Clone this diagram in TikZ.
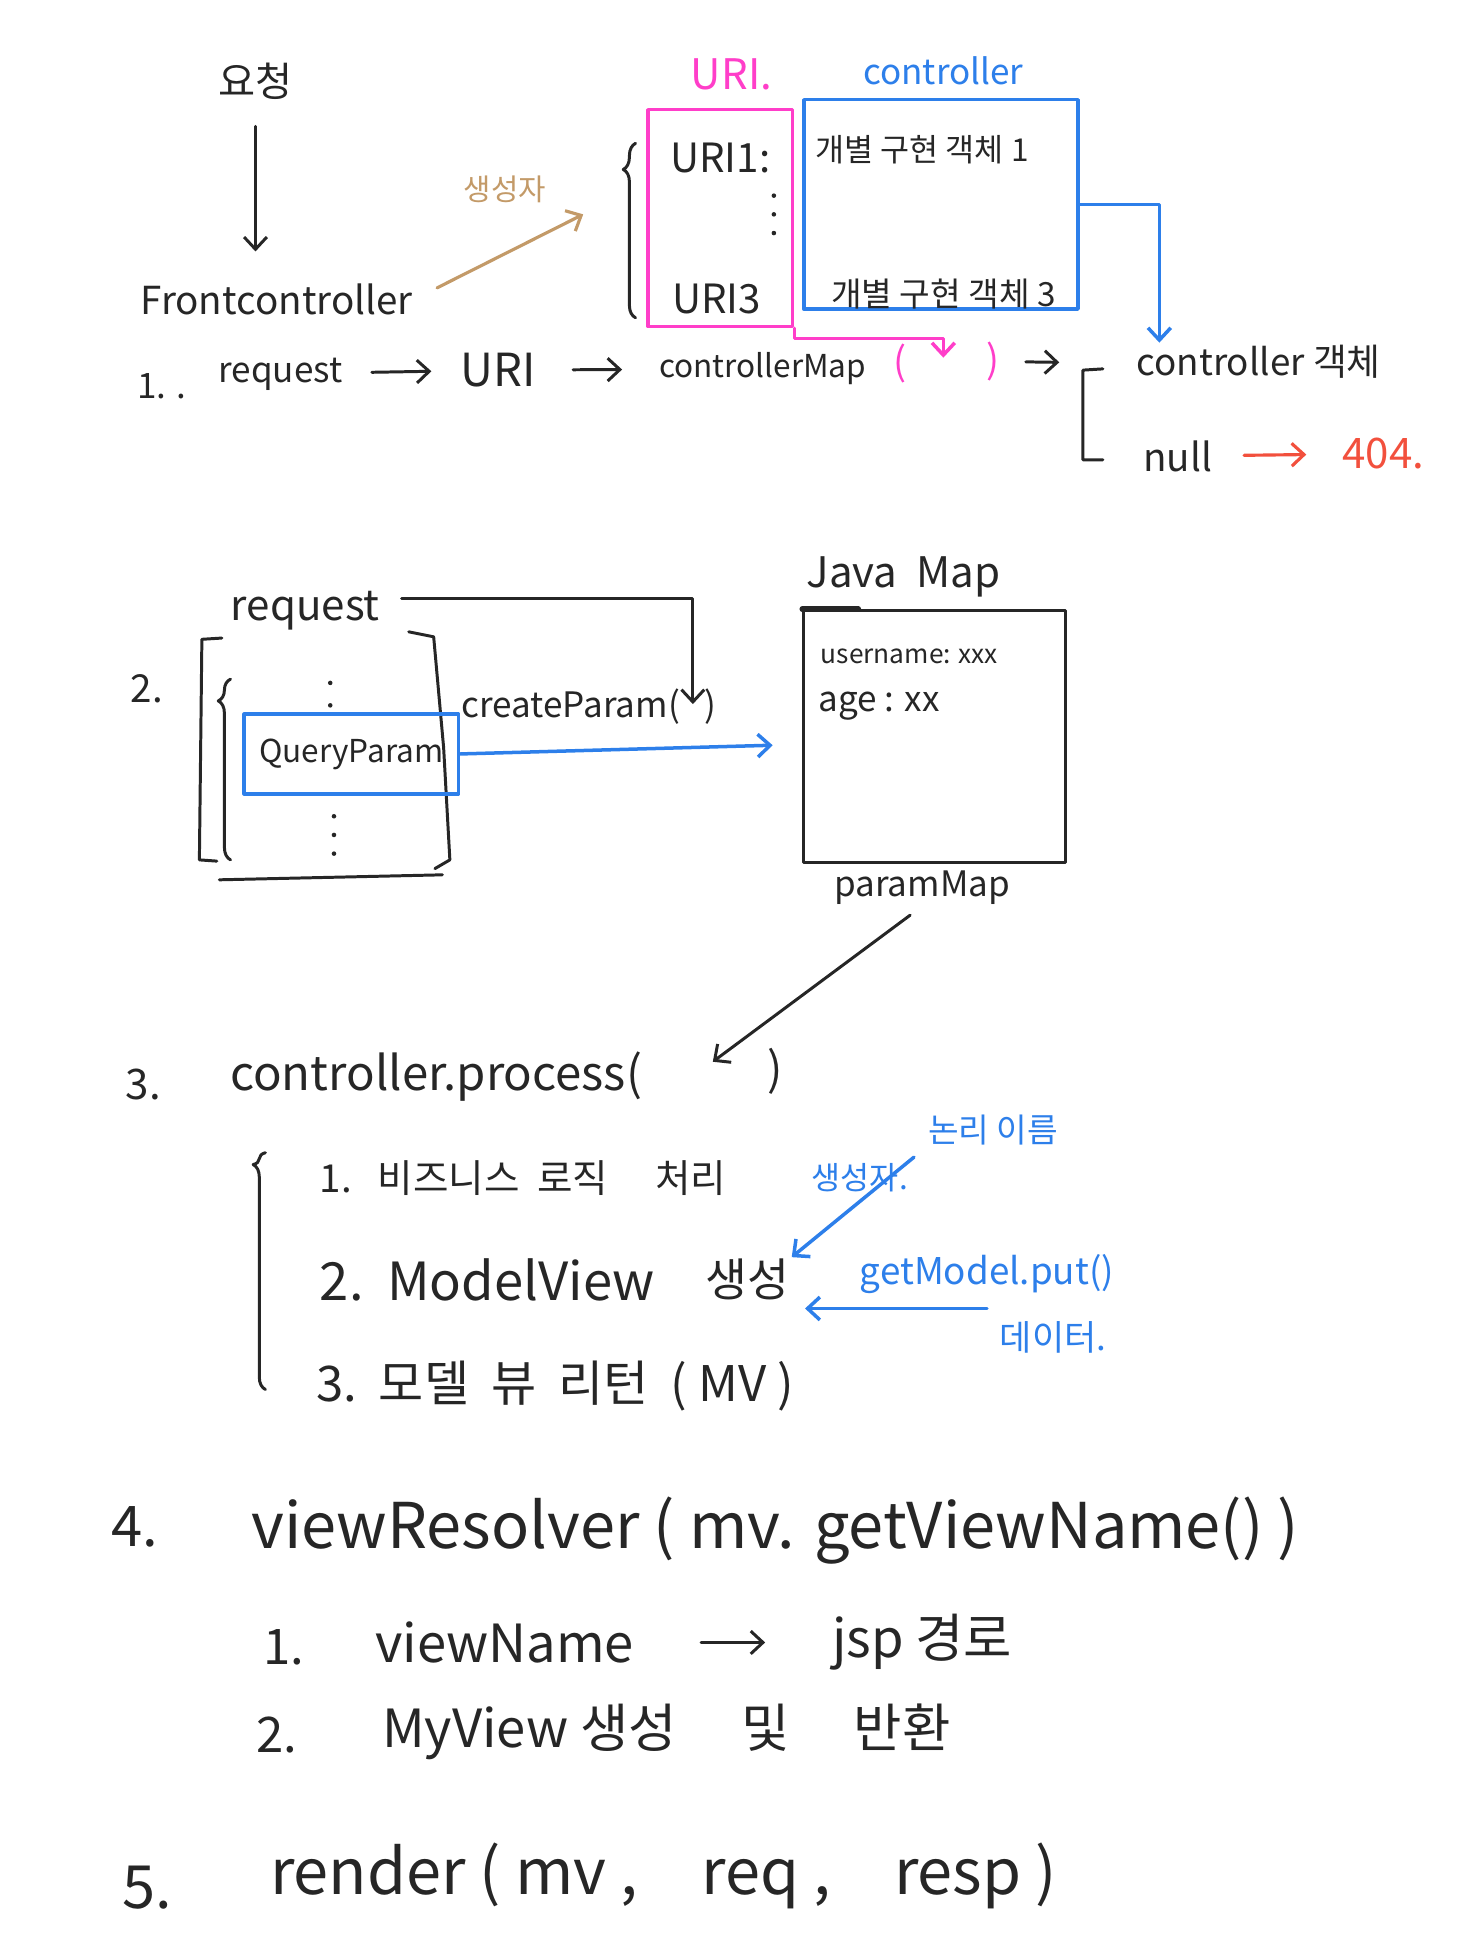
\documentclass[tikz,border=0pt]{standalone}
\usepackage{fontspec}
\setmainfont{Noto Sans CJK KR}
\usetikzlibrary{positioning,arrows.meta,decorations.pathreplacing}
\definecolor{pen}{HTML}{262626}
\definecolor{pinkink}{HTML}{FF3EC9}
\definecolor{blueink}{HTML}{2D7FEA}
\definecolor{tanink}{HTML}{C39A68}
\definecolor{redink}{HTML}{F2503D}
\tikzset{
  fsz/.style={font=\fontsize{#1}{#1}\selectfont},
  word/.style={inner sep=1pt,text=pen},
  ink/.style={draw=pen,line width=1.7pt,line cap=round,line join=round},
  pinkpen/.style={draw=pinkink,line width=2pt,line cap=round,line join=round},
  bluepen/.style={draw=blueink,line width=2pt,line cap=round,line join=round},
  tanpen/.style={draw=tanink,line width=1.8pt,line cap=round},
  redpen/.style={draw=redink,line width=1.8pt,line cap=round},
  trim/.style={shorten <=#1,shorten >=#1},
  curly/.style={ink,decorate,decoration={brace,amplitude=7pt,aspect=#1}},
}
\begin{document}
\begin{tikzpicture}[x=0.025cm,y=-0.025cm,>={Straight Barb[length=7pt,width=13pt]}]
\useasboundingbox (0,0) rectangle (1176,1568);
% request enters the front controller
\node[word,fsz=23] (ask) at (205,65) {요청};
\node[word,fsz=22] (front) at (222,240) {Frontcontroller};
\draw[ink,->,shorten <=0.5cm,shorten >=0.6cm] (ask) -- (ask |- front.north);
\coordinate (toTable) at (468,172);
\draw[tanpen,->,shorten <=0.5cm] (front.east) -- (toTable);
\node[text=tanink,fsz=17] (ctorA) at (405,152) {생성자};
% URI -> controller table
\node[fsz=24,text=pinkink] (uriHead) at (587,60) {URI.};
\node[fsz=20,text=blueink] (ctrlHead) at (757,57) {controller};
\node[pinkpen,minimum width=2.9cm,minimum height=4.35cm] (uriBox) at (578,175) {};
\node[bluepen,minimum width=5.5cm,minimum height=4.2cm] (ctrlBox) at (755,164) {};
\node[word,fsz=23] (uri1) at (578,127) {URI1:};
\foreach \y in {157,172,187} \fill[pen] (621,\y) circle (1.3pt);
\node[word,fsz=23] (uri3) at (575,240) {URI3};
\node[word,fsz=18] (impl1) at (740,120) {개별 구현 객체 1};
\node[word,fsz=19] (impl3) at (757,236) {개별 구현 객체 3};
\draw[curly=0.85] (510,255) -- (510,115);
% step 1
\node[word,fsz=20] (n1) at (130,310) {1. .};
\node[word,fsz=20] (req1) at (225,300) {request};
\node[word,fsz=26] (uriTxt) at (400,297) {URI};
\node[word,fsz=18] (cmap) at (612,296) {controllerMap};
\node[fsz=22,text=pinkink] (lpar) at (722,292) {(};
\node[fsz=22,text=pinkink] (rpar) at (797,290) {)};
\coordinate (mapArg) at (757,287);
\draw[pinkpen,->] (uriBox.south east) -- ++(0,8) -| (mapArg);
\draw[ink,->,trim=0.55cm] (req1) -- (uriTxt);
\draw[ink,->,trim=0.7cm] (uriTxt) -- (cmap);
\coordinate (fork) at (866,291);
\draw[ink,->,shorten <=0.4cm,shorten >=0.4cm] (rpar) -- (fork);
\draw[ink] (885,296) -- (869,297) -- (869,369) -- (885,369);
\node[word,fsz=21] (ctrlObj) at (1010,290) {controller 객체};
\node[word,fsz=22] (nullTxt) at (945,366) {null};
\node[fsz=24,text=redink] (notFound) at (1110,364) {404.};
\draw[redpen,->,trim=0.6cm] (nullTxt) -- (notFound);
\draw[bluepen,->] (ctrlBox.east) -| ([xshift=0.5cm]ctrlObj.north west);
% step 2
\node[word,fsz=22] (two) at (118,553) {2.};
\node[word,fsz=24] (reqTop) at (245,490) {request};
\draw[ink] (178,512) -- (162,513) -- (160,690) -- (174,691);
\draw[ink] (328,507) -- (348,511) -- (356,600) -- (361,690) -- (349,697);
\draw[ink] (176,706) -- (355,702);
\node[bluepen,minimum width=4.3cm,minimum height=1.6cm,word,fsz=18] (qp) at (282,605) {QueryParam};
\foreach \y in {548,566} \fill[pen] (265,\y) circle (1.3pt);
\foreach \y in {655,670,685} \fill[pen] (268,\y) circle (1.3pt);
\draw[curly=0.88] (185,690) -- (185,545);
\node[word,fsz=20] (cp) at (458,567) {createParam(};
\node[word,fsz=20] (cpEnd) at (570,567) {)};
\coordinate (cpArg) at (556,565);
\draw[ink,->,shorten <=0.4cm] ([yshift=0.25cm]reqTop.east) -| (cpArg);
\coordinate (mapIn) at (620,598);
\draw[bluepen,->] (qp.east) -- (mapIn);
\node[word,fsz=24] (javaMap) at (725,463) {Java\ \ Map};
\node[ink,minimum width=5.25cm,minimum height=5.05cm] (mapBox) at (750,591) {};
\draw[ink,line width=3.2pt] (mapBox.north west) -- ++(45,0);
\node[word,fsz=15,anchor=west] (uname) at (657,527) {username: xxx};
\node[word,fsz=20,anchor=west] (age) at (655,567) {age : xx};
\node[word,fsz=20] (pmap) at (740,712) {paramMap};
\coordinate (procArg) at (572,852);
\draw[ink,->,shorten <=0.3cm] (pmap.south) -- (procArg);
% step 3
\node[word,fsz=24] (three) at (115,870) {3.};
\node[word,fsz=27] (proc) at (350,864) {controller.process(};
\node[word,fsz=26] (procEnd) at (622,860) {)};
\draw[curly=0.95] (213,1115) -- (213,925);
\node[word,fsz=22,anchor=west] (s31) at (255,945) {1.\ \ \ 비즈니스\ \ 로직\quad\ 처리};
\node[word,fsz=30,anchor=west] (mvTxt) at (255,1027) {2.\ \ ModelView};
\node[word,fsz=26] (mvNew) at (600,1027) {생성};
\node[word,fsz=28,anchor=west] (s33) at (252,1112) {3.\ \ 모델\ \ 뷰\ \ 리턴\ \ ( MV )};
\node[fsz=19,text=blueink] (logical) at (797,907) {논리 이름};
\node[fsz=18,text=blueink] (ctorB) at (690,945) {생성자.};
\draw[bluepen,->] (ctorB.north east) -- (mvNew.north east);
\node[fsz=21,text=blueink] (gmput) at (792,1022) {getModel.put()};
\coordinate (mvData) at (646,1050);
\draw[bluepen,->] (gmput.south |- mvData) -- (mvData);
\node[fsz=20,text=blueink] (dataNote) at (845,1073) {데이터.};
% step 4
\node[word,fsz=32] (four) at (108,1225) {4.};
\node[word,fsz=36,anchor=west] (resolver) at (200,1228) {viewResolver ( mv. getViewName() )};
\node[word,fsz=28] (s41n) at (228,1322) {1.};
\node[word,fsz=30] (vname) at (405,1318) {viewName};
\node[word,fsz=30] (jsp) at (740,1318) {jsp 경로};
\draw[ink,->,trim=1.3cm] (vname) -- (jsp);
\node[word,fsz=28] (s42n) at (222,1392) {2.};
\node[word,fsz=30,anchor=west] (myview) at (305,1390) {MyView 생성\quad\ 및\quad\ 반환};
% step 5
\node[word,fsz=34] (five) at (118,1515) {5.};
\node[word,fsz=36,anchor=west] (render) at (215,1505) {render ( mv ,\quad req ,\quad resp )};
\end{tikzpicture}
\end{document}
